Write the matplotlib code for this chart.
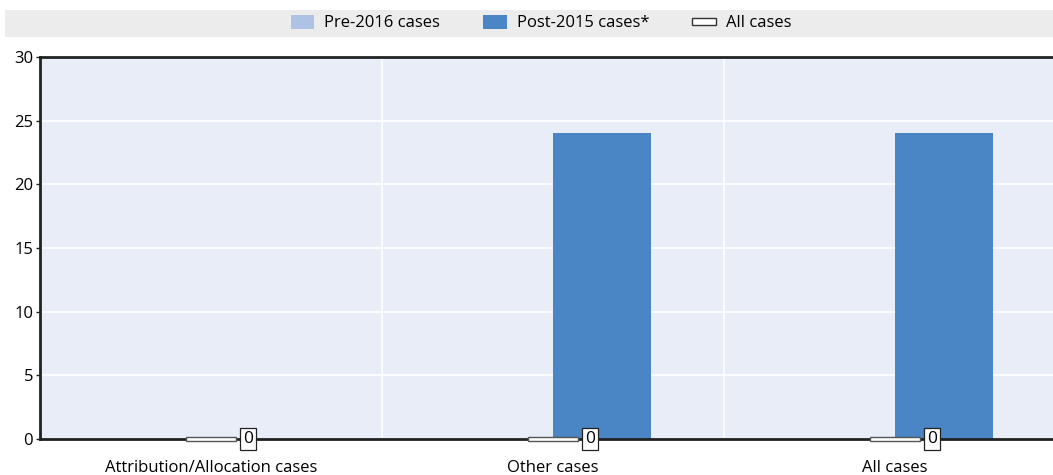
import numpy as np
import matplotlib.pyplot as plt
from matplotlib.patches import Patch, Rectangle
from matplotlib.legend_handler import HandlerPatch

plt.rcParams['font.family'] = ['Open Sans', 'DejaVu Sans']

# data
categories = ['Attribution/Allocation cases', 'Other cases', 'All cases']
pre_2016 = [0, 0, 0]
post_2015 = [0, 24, 24]
all_cases = [0, 0, 0]

c_pre = '#adc2e4'
c_post = '#4a86c5'
c_bg = '#e9edf7'

W, H = 1053, 475
step = 342  # pixels per category
fig = plt.figure(figsize=(W / 100, H / 100), dpi=100)
ax = fig.add_axes([40 / W, 1 - 439 / H, (W - 40) / W, 382 / H])
ax.set_facecolor(c_bg)

x = np.arange(len(categories))
bw = 98 / step
ax.bar(x - bw / 2, pre_2016, bw, color=c_pre, zorder=2)
ax.bar(x + bw / 2, post_2015, bw, color=c_post, zorder=2)

# "All cases" shown as a flat marker with a boxed value label
mw = 50 / step
for xi, v in zip(x, all_cases):
    ax.bar(xi, 0.36, mw, bottom=v - 0.18, color='white', edgecolor='#555555',
           linewidth=1, zorder=4, clip_on=False)
    ax.annotate(f'{v:g}', (xi + mw / 2, v), xytext=(5, 0),
                textcoords='offset points', ha='left', va='center',
                fontsize=12.5, zorder=5, annotation_clip=False,
                bbox=dict(boxstyle='square,pad=0.15', fc='white', ec='#222222', lw=0.9))

ax.set_ylim(0, 30)
ax.set_xlim(-0.5, (W - 40) / step - 0.5)
ax.set_yticks(range(0, 31, 5))
ax.set_xticks(x)
ax.set_xticklabels(categories, fontsize=12)
ax.tick_params(axis='x', length=0, pad=15)
ax.tick_params(axis='y', length=3, width=1, labelsize=12, pad=2, color='#222222')

ax.grid(axis='y', color='white', linewidth=1.2, zorder=1)
for b in [0.5, 1.5]:
    ax.axvline(b, color='white', linewidth=1.2, zorder=1)
ax.set_axisbelow(True)

for s in ['left', 'top', 'bottom']:
    ax.spines[s].set_color('#222222')
    ax.spines[s].set_linewidth(2)
ax.spines['right'].set_visible(False)

# legend band
fig.patches.append(Rectangle((5 / W, 1 - 37 / H), 1, 27 / H, transform=fig.transFigure,
                             facecolor='#ececec', edgecolor='none', zorder=0))


def flat_patch(legend, orig_handle, xdescent, ydescent, width, height, fontsize):
    return Rectangle((-xdescent, -ydescent + height * 0.25), width, height * 0.5)


handles = [Patch(facecolor=c_pre, edgecolor='none', label='Pre-2016 cases'),
           Patch(facecolor=c_post, edgecolor='none', label='Post-2015 cases*'),
           Patch(facecolor='white', edgecolor='#333333', linewidth=1, label='All cases')]
fig.legend(handles=handles, loc='center', bbox_to_anchor=(541 / W, 1 - 23 / H),
           ncol=3, frameon=False, fontsize=12, handlelength=1.4, handleheight=0.9,
           columnspacing=2.6, handletextpad=0.6,
           handler_map={handles[2]: HandlerPatch(patch_func=flat_patch)})

fig.savefig('out.png', dpi=100)
